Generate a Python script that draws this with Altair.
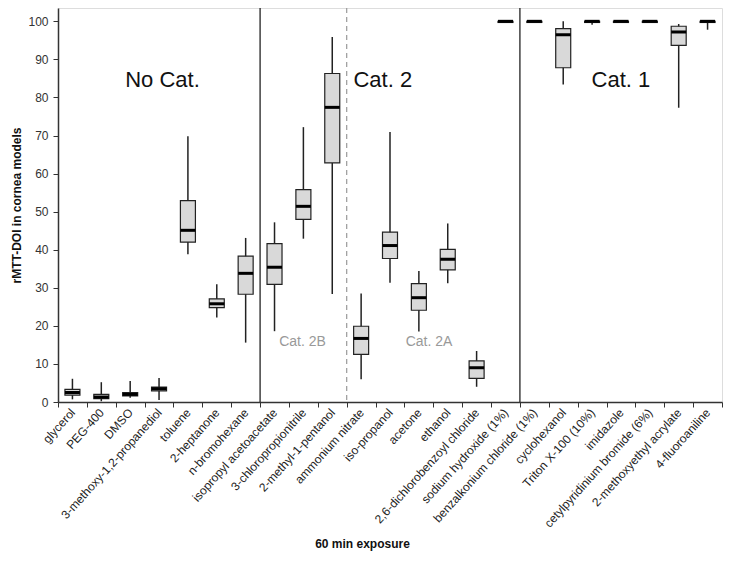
import altair as alt
import pandas as pd

categories = [
    "glycerol", "PEG-400", "DMSO", "3-methoxy-1,2-propanediol", "toluene",
    "2-heptanone", "n-bromohexane", "isopropyl acetoacetate",
    "3-chloropropionitrile", "2-methyl-1-pentanol", "ammonium nitrate",
    "iso-propanol", "acetone", "ethanol", "2,6-dichlorobenzoyl chloride",
    "sodium hydroxide (1%)", "benzalkonium chloride (1%)", "cyclohexanol",
    "Triton X-100 (10%)", "imidazole", "cetylpyridinium bromide (6%)",
    "2-methoxyethyl acrylate", "4-fluoroaniline",
]
whisker_low = [0.7, 0.2, 1.1, 0.5, 38.8, 22.2, 15.6, 18.6, 42.9, 28.4, 6.0,
               31.3, 18.5, 31.2, 4.0, 99.7, 99.7, 83.4, 99.1, 99.7, 99.7,
               77.3, 97.8]
q1 = [1.8, 0.9, 1.6, 2.9, 42.0, 24.8, 28.3, 30.9, 48.0, 62.8, 12.5,
      37.7, 24.1, 34.7, 6.2, 99.7, 99.7, 87.8, 99.7, 99.7, 99.7, 93.7, 99.7]
median = [2.5, 1.3, 2.0, 3.5, 45.1, 25.8, 33.8, 35.4, 51.4, 77.4, 16.7,
          41.1, 27.4, 37.5, 9.0, 100, 100, 96.5, 100, 100, 100, 97.2, 100]
q3 = [3.3, 2.0, 2.5, 3.9, 52.9, 27.1, 38.3, 41.6, 55.8, 86.3, 19.9,
      44.6, 31.1, 40.1, 10.8, 100, 100, 98.1, 100, 100, 100, 98.7, 100]
whisker_high = [6.1, 5.2, 5.5, 6.3, 69.8, 30.9, 43.1, 47.2, 72.2, 95.9, 28.5,
                70.9, 34.4, 46.9, 13.4, 100, 100, 100, 100, 100, 100, 99.3, 100]

separator_cats = ["isopropyl acetoacetate", "ammonium nitrate",
                  "benzalkonium chloride (1%)"]
separator_dashed = [False, True, False]

big_labels = ["No Cat.", "Cat. 2", "Cat. 1"]
big_label_cats = ["3-methoxy-1,2-propanediol", "iso-propanol", "imidazole"]
big_label_pos = [0.62, 0.25, 0.5]
big_label_y = [84.7, 84.7, 84.7]
sub_labels = ["Cat. 2B", "Cat. 2A"]
sub_label_cats = ["3-chloropropionitrile", "acetone"]
sub_label_pos = [0.47, 0.85]
sub_label_y = [15.8, 15.8]

df = pd.DataFrame({
    "cat": categories, "lo": whisker_low, "q1": q1, "med": median,
    "q3": q3, "hi": whisker_high,
})

FONT = "Liberation Sans"
xscale = alt.Scale(domain=categories, paddingInner=0, paddingOuter=0)
yscale = alt.Scale(domain=[0, 103.5], nice=False, zero=False)

x_axis = alt.Axis(
    title="60 min exposure", labelAngle=-48, labelFontSize=12,
    labelFont=FONT, labelColor="#222", tickBand="extent", tickSize=5,
    tickColor="#333", domainColor="#333", domainWidth=1.5, grid=False,
    titleFont=FONT, titleFontSize=12, titleFontWeight="bold",
    titleColor="#111", titleX=304, titleY=141, titleBaseline="middle",
    labelPadding=3,
)
y_axis = alt.Axis(
    title="rMTT-DOI in cornea models", values=list(range(0, 101, 10)),
    labelFontSize=12, labelFont=FONT, labelColor="#333", tickSize=5,
    tickColor="#333", domainColor="#333", domainWidth=1.5, grid=False,
    labelPadding=5, titleFont=FONT, titleFontSize=12,
    titleFontWeight="bold", titleColor="#111", titlePadding=4,
)


def X(bp=None):
    if bp is None:
        return alt.X("cat:N", scale=xscale, axis=x_axis, sort=categories)
    return alt.X("cat:N", scale=xscale, axis=x_axis, sort=categories,
                 bandPosition=bp)


def Y(field):
    return alt.Y(field, scale=yscale, axis=y_axis)


base = alt.Chart(df)

whiskers = base.mark_rule(color="#222", strokeWidth=1.5).encode(
    x=X(), y=Y("lo:Q"), y2="hi:Q")
boxes = base.mark_bar(size=15, fill="#d9d9d9", stroke="#222",
                      strokeWidth=1.2, opacity=1).encode(
    x=X(), y=Y("q1:Q"), y2="q3:Q")
medians = base.mark_tick(size=15, thickness=3, color="#000",
                         opacity=1).encode(
    x=X(), y=Y("med:Q"))

sep_df = pd.DataFrame({"cat": separator_cats, "dashed": separator_dashed})
solid_sep = alt.Chart(sep_df).transform_filter("!datum.dashed").mark_rule(
    color="#222", strokeWidth=1.3).encode(x=X(0))
dashed_sep = alt.Chart(sep_df).transform_filter("datum.dashed").mark_rule(
    color="#999", strokeWidth=1.2, strokeDash=[5, 4]).encode(x=X(0))

text_layers = []
for t, c, p, v in zip(big_labels, big_label_cats, big_label_pos, big_label_y):
    d = pd.DataFrame({"t": [t], "cat": [c], "v": [v]})
    text_layers.append(alt.Chart(d).mark_text(
        font=FONT, fontSize=22, color="#111", baseline="middle",
        align="center").encode(x=X(p), y=Y("v:Q"), text="t:N"))
for t, c, p, v in zip(sub_labels, sub_label_cats, sub_label_pos, sub_label_y):
    d = pd.DataFrame({"t": [t], "cat": [c], "v": [v]})
    text_layers.append(alt.Chart(d).mark_text(
        font=FONT, fontSize=14, color="#999", baseline="middle",
        align="center").encode(x=X(p), y=Y("v:Q"), text="t:N"))

chart = alt.layer(
    solid_sep, dashed_sep, whiskers, boxes, medians, *text_layers
).properties(
    width=664, height=394,
    autosize=alt.AutoSizeParams(type="none"),
    padding={"left": 50, "top": 0, "right": 1, "bottom": 150},
).configure_view(
    stroke="#333", strokeWidth=1.5
).configure(background="white")

chart.save("out.html", embed_options={"renderer": "svg", "actions": False})
